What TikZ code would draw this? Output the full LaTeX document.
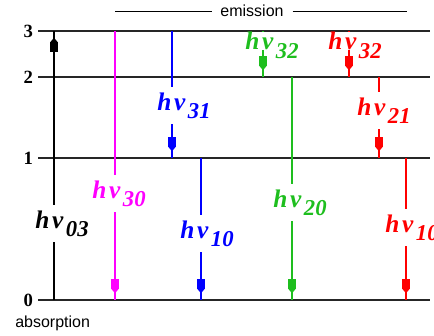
\documentclass[tikz,border=0pt]{standalone}
\usepackage{fontspec}
\setmainfont{Liberation Serif}
\setsansfont{Liberation Sans}
\newfontfamily\timesfont{Liberation Serif}
\usepackage{tikz}
\usetikzlibrary{arrows.meta, decorations.markings}
\definecolor{emblue}{RGB}{0, 0, 255}
\definecolor{emmagenta}{RGB}{255, 0, 255}
\definecolor{emgreen}{RGB}{30, 190, 30}
\definecolor{emred}{RGB}{255, 0, 0}

\newcommand{\hnu}[1]{\timesfont\fontsize{19}{19}\selectfont\bfseries\itshape h\kern2pt ν\kern2pt\raisebox{-6.5pt}{\fontsize{17}{17}\selectfont #1}}

\tikzset{
  level/.style={line width=1.1pt, black!85},
  trans/.style={line width=0.8pt},
  tipped/.style={trans, postaction={decorate}, decoration={markings, mark=at position -5pt with {\arrow{Rectangle[length=7pt, width=5.5pt, sep=0pt] Triangle[length=3.5pt, width=5.5pt]}}}},
  lvl/.style={font=\timesfont\fontsize{14}{14}\selectfont\bfseries, inner xsep=3.5pt, inner ysep=0pt, anchor=east},
  lab/.style={inner xsep=0pt, inner ysep=4pt, anchor=base west},
  tight/.style={lab, inner ysep=0pt},
  caption/.style={font=\sffamily\fontsize{12}{12}\selectfont},
}

\begin{document}
\begin{tikzpicture}[x=0.75pt, y=-0.75pt]
  \useasboundingbox (0,0) rectangle (434,335);

  % Energy levels
  \foreach \n/\y in {3/31, 2/77, 1/158, 0/300} {
    \node[lvl] (lv\n) at (38, \y) {\n};
    \coordinate (e\n) at (430, \y);
    \draw[level] (lv\n.east) -- (e\n);
  }

  % Emission header
  \node[caption, inner xsep=6.5pt, anchor=base] (emis) at (252, 17) {emission};
  \coordinate (el) at (115, 12);
  \coordinate (er) at (407, 12);
  \draw[line width=0.75pt] (el) -- (el -| emis.west);
  \draw[line width=0.75pt] (er -| emis.east) -- (er);

  % Absorption
  \node[caption, inner sep=0pt, anchor=base west] (abs) at (15, 327) {absorption};
  \coordinate (a0) at (54, 300);
  \coordinate (a3) at (54, 31);
  \node[lab] (l03) at (35, 228) {\hnu{03}};
  \draw[trans] (a0) -- (l03.south -| a0);
  \draw[tipped] (l03.north -| a3) -- (a3);

  % 3 -> 0
  \coordinate (m3) at (115, 31);
  \coordinate (m0) at (115, 300);
  \node[lab, text=emmagenta] (l30) at (92, 198) {\hnu{30}};
  \draw[trans, emmagenta] (m3) -- (l30.north -| m3);
  \draw[tipped, emmagenta] (l30.south -| m0) -- (m0);

  % 3 -> 1 and 1 -> 0
  \coordinate (b3) at (172, 31);
  \coordinate (b1) at (172, 158);
  \node[lab, text=emblue] (l31) at (157, 110) {\hnu{31}};
  \draw[trans, emblue] (b3) -- (l31.north -| b3);
  \draw[tipped, emblue] (l31.south -| b1) -- (b1);

  \coordinate (c1) at (201, 158);
  \coordinate (c0) at (201, 300);
  \node[lab, text=emblue] (lb10) at (180, 238) {\hnu{10}};
  \draw[trans, emblue] (c1) -- (lb10.north -| c1);
  \draw[tipped, emblue] (lb10.south -| c0) -- (c0);

  % 3 -> 2 and 2 -> 0
  \coordinate (g3) at (263, 31);
  \coordinate (g2) at (263, 77);
  \node[tight, text=emgreen] (lg32) at (245, 50) {\hnu{32}};
  \draw[trans, emgreen] (g3) -- (lg32.north -| g3);
  \draw[tipped, emgreen] (lg32.base -| g2) -- (g2);

  \coordinate (h2) at (292, 77);
  \coordinate (h0) at (292, 300);
  \node[lab, text=emgreen] (l20) at (273, 207) {\hnu{20}};
  \draw[trans, emgreen] (h2) -- (l20.north -| h2);
  \draw[tipped, emgreen] (l20.south -| h0) -- (h0);

  % 3 -> 2 -> 1 -> 0
  \coordinate (r3) at (349, 31);
  \coordinate (r2) at (349, 77);
  \node[tight, text=emred] (lr32) at (328, 50) {\hnu{32}};
  \draw[trans, emred] (r3) -- (lr32.north -| r3);
  \draw[tipped, emred] (lr32.base -| r2) -- (r2);

  \coordinate (s2) at (379, 77);
  \coordinate (s1) at (379, 158);
  \node[lab, text=emred] (l21) at (357, 115) {\hnu{21}};
  \draw[trans, emred] (s2) -- (l21.north -| s2);
  \draw[tipped, emred] (l21.south -| s1) -- (s1);

  \coordinate (t1) at (406, 158);
  \coordinate (t0) at (406, 300);
  \node[lab, text=emred] (lr10) at (385, 232) {\hnu{10}};
  \draw[trans, emred] (t1) -- (lr10.north -| t1);
  \draw[tipped, emred] (lr10.south -| t0) -- (t0);
\end{tikzpicture}
\end{document}
